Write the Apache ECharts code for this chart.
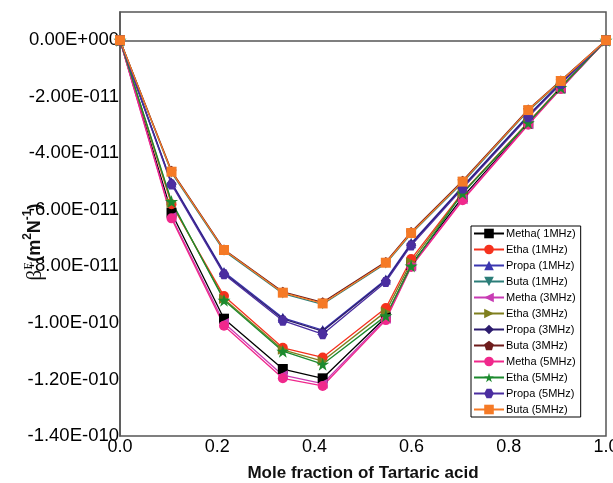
<!DOCTYPE html>
<html>
<head>
<meta charset="utf-8">
<script src="https://cdn.jsdelivr.net/npm/echarts@6/dist/echarts.min.js"></script>
<style>
  html, body { margin: 0; padding: 0; background: #fff; }
  #chart { width: 613px; height: 483px; }
</style>
</head>
<body>
<div id="chart"></div>
<script>
// mole fraction of tartaric acid
var xVals = [0, 0.106, 0.214, 0.335, 0.417, 0.547, 0.599, 0.705, 0.84, 0.907, 1];

// beta^E values, in units of 1E-011 m2N-1
var methaMHz1 = [0, -6.1, -9.85, -11.63, -11.96, -9.8, -7.95, -5.55, -2.95, -1.7, 0];
var ethaMHz1  = [0, -5.8, -9.05, -10.88, -11.22, -9.47, -7.74, -5.38, -2.9, -1.65, 0];
var propaMHz1 = [0, -5.03, -8.2, -9.82, -10.25, -8.46, -7.18, -5.17, -2.65, -1.5, 0];
var butaMHz1  = [0, -4.68, -7.45, -8.96, -9.34, -7.9, -6.85, -5.03, -2.5, -1.46, 0];
var methaMHz3 = [0, -6.25, -10.0, -11.85, -12.15, -9.85, -8.0, -5.62, -2.97, -1.7, 0];
var ethaMHz3  = [0, -5.75, -9.15, -10.95, -11.35, -9.6, -7.85, -5.4, -2.92, -1.66, 0];
var propaMHz3 = [0, -5.06, -8.24, -9.86, -10.29, -8.5, -7.21, -5.2, -2.68, -1.52, 0];
var butaMHz3  = [0, -4.62, -7.4, -8.9, -9.27, -7.84, -6.78, -4.97, -2.45, -1.42, 0];
var methaMHz5 = [0, -6.3, -10.1, -11.96, -12.23, -9.9, -8.02, -5.66, -2.99, -1.72, 0];
var ethaMHz5  = [0, -5.7, -9.2, -11.0, -11.46, -9.75, -7.99, -5.41, -2.92, -1.67, 0];
var propaMHz5 = [0, -5.1, -8.28, -9.92, -10.4, -8.55, -7.26, -5.24, -2.72, -1.55, 0];
var butaMHz5  = [0, -4.65, -7.42, -8.93, -9.31, -7.87, -6.82, -5.0, -2.47, -1.44, 0];

var names = ['Metha( 1MHz)', 'Etha (1MHz)', 'Propa (1MHz)', 'Buta (1MHz)',
             'Metha (3MHz)', 'Etha (3MHz)', 'Propa (3MHz)', 'Buta (3MHz)',
             'Metha (5MHz)', 'Etha (5MHz)', 'Propa (5MHz)', 'Buta (5MHz)'];
var values = [methaMHz1, ethaMHz1, propaMHz1, butaMHz1,
              methaMHz3, ethaMHz3, propaMHz3, butaMHz3,
              methaMHz5, ethaMHz5, propaMHz5, butaMHz5];

var colors = ['#000000', '#f5321e', '#3b36b0', '#2b7d78',
              '#c83cb4', '#7f7f1e', '#2c1c6e', '#6e1c1c',
              '#f0288c', '#1c8a2e', '#4b2ea0', '#f57a26'];

var star = 'path://M50,0 L61,35 L98,35 L68,57 L79,91 L50,70 L21,91 L32,57 L2,35 L39,35 Z';
var pentagon = 'path://M50,0 L100,38 L81,100 L19,100 L0,38 Z';
var hexagon = 'path://M25,0 L75,0 L100,50 L75,100 L25,100 L0,50 Z';
var symbols = ['rect', 'circle', 'triangle', 'triangle',
               'triangle', 'triangle', 'diamond', pentagon,
               'circle', star, hexagon, 'rect'];
var rotates = [0, 0, 0, 180, 90, -90, 0, 0, 0, 0, 0, 0];

function sciLabel(v) {
  if (Math.abs(v) < 1e-15) v = 0;
  var parts = v.toExponential(2).split('e');
  var exp = parseInt(parts[1], 10);
  var e = String(Math.abs(exp));
  while (e.length < 3) e = '0' + e;
  return parts[0] + 'E' + (exp < 0 ? '-' : '+') + e;
}

var chart = echarts.init(document.getElementById('chart'));

var series = names.map(function (n, i) {
  return {
    name: n,
    type: 'line',
    data: xVals.map(function (x, j) { return [x, values[i][j] * 1e-11]; }),
    symbol: symbols[i],
    symbolRotate: rotates[i],
    symbolSize: i === 9 ? 13 : 10,
    color: colors[i],
    lineStyle: { width: 1.3, color: colors[i] },
    itemStyle: { color: colors[i] },
    animation: false
  };
});

var option = {
  backgroundColor: '#fff',
  animation: false,
  grid: {
    left: 120, right: 7, top: 12, bottom: 47,
    outerBoundsMode: 'none',
    containLabel: false,
    show: true, borderColor: '#555', borderWidth: 1.5
  },
  legend: {
    orient: 'vertical',
    left: 471,
    top: 226,
    data: names,
    itemWidth: 30,
    itemHeight: 12,
    itemGap: 5,
    padding: [2, 5, 2, 2],
    borderColor: '#000',
    borderWidth: 1,
    textStyle: { fontFamily: 'Liberation Sans', fontSize: 11, color: '#000', padding: [0, 0, 0, -3] }
  },
  xAxis: {
    type: 'value',
    min: 0,
    max: 1,
    interval: 0.2,
    name: 'Mole fraction of Tartaric acid',
    nameLocation: 'middle',
    nameGap: 29,
    nameMoveOverlap: false,
    nameTextStyle: { fontFamily: 'Liberation Sans', fontSize: 17, fontWeight: 'bold', color: '#111' },
    axisLine: { lineStyle: { color: '#555', width: 1.5 } },
    axisTick: { show: false },
    splitLine: { show: false },
    axisLabel: {
      margin: 2,
      fontFamily: 'Liberation Sans', fontSize: 18, color: '#000',
      formatter: function (v) { return v.toFixed(1); }
    }
  },
  yAxis: {
    type: 'value',
    min: -1.4e-10,
    max: 1e-11,
    interval: 2e-11,
    name: '{b|β}{s|E}{a|(m}{t|2}{a|N}{t|-1}{a|)}',
    nameLocation: 'middle',
    nameGap: 72,
    nameRotate: 90,
    nameMoveOverlap: false,
    nameTextStyle: {
      padding: [0, 36, 0, 0],
      rich: {
        b: { fontFamily: 'Liberation Serif', fontSize: 21, color: '#111', lineHeight: 26 },
        s: { fontFamily: 'Liberation Serif', fontSize: 13, color: '#111', lineHeight: 12, verticalAlign: 'top' },
        a: { fontFamily: 'Liberation Sans', fontSize: 18, fontWeight: 'bold', color: '#111', lineHeight: 26 },
        t: { fontFamily: 'Liberation Sans', fontSize: 12, fontWeight: 'bold', color: '#111', lineHeight: 12, verticalAlign: 'top' }
      }
    },
    axisLine: { lineStyle: { color: '#555', width: 1.5 } },
    axisTick: { show: false },
    splitLine: { show: false },
    axisLabel: {
      margin: 1,
      showMaxLabel: false,
      fontFamily: 'Liberation Sans', fontSize: 18.5, color: '#000',
      formatter: sciLabel
    }
  },
  series: series
};

chart.setOption(option);
</script>
</body>
</html>
